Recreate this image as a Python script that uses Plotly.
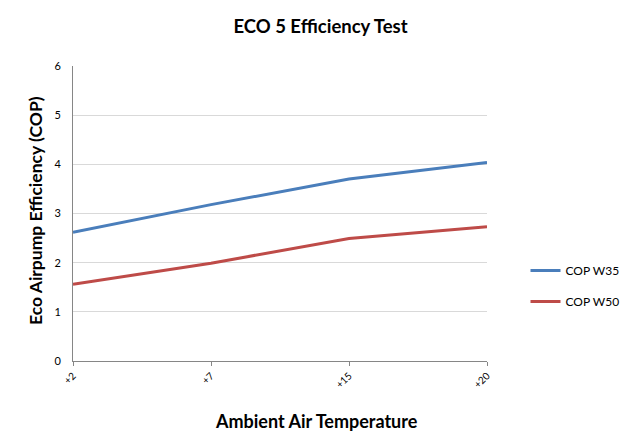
import plotly.graph_objects as go

categories = ["+2", "+7", "+15", "+20"]
cop_w35 = [2.62, 3.18, 3.70, 4.04]
cop_w50 = [1.56, 1.99, 2.49, 2.73]
y_ticks = [0, 1, 2, 3, 4, 5, 6]

FONT = "Lato"

fig = go.Figure()
fig.add_trace(go.Scatter(x=categories, y=cop_w35, mode="lines", name="COP W35", legendgroup="a",
                         line=dict(color="#4A7EBB", width=3)))
fig.add_trace(go.Scatter(x=categories, y=cop_w50, mode="lines", name="COP W50", legendgroup="b",
                         line=dict(color="#BE4B48", width=3)))

fig.update_layout(
    width=641, height=444,
    margin=dict(l=73, r=154, t=66, b=83, autoexpand=False),
    paper_bgcolor="white", plot_bgcolor="white",
    font=dict(family=FONT, color="black"),
    title=dict(text="<b>ECO 5 Efficiency Test</b>", x=0.5, xref="container", xanchor="center",
               y=0.94, yref="container", yanchor="middle",
               font=dict(size=18.5, family=FONT, color="black")),
    showlegend=True,
    legend=dict(x=1.093, xanchor="left", y=0.254, yanchor="middle",
                font=dict(size=12, family=FONT), tracegroupgap=12, itemwidth=30,
                bgcolor="rgba(0,0,0,0)"),
    xaxis=dict(type="category", range=[0, 3], showgrid=False, automargin=False,
               showline=True, linecolor="#868686", linewidth=1,
               ticks="outside", tickcolor="#868686", ticklen=4,
               tickangle=-45, tickfont=dict(size=10, family=FONT)),
    yaxis=dict(range=[0, 6], tickvals=y_ticks, showgrid=True, gridcolor="#D9D9D9", automargin=False,
               showline=True, linecolor="#868686", linewidth=1, zeroline=False,
               tickfont=dict(size=11, family=FONT), ticklabelstandoff=9),
    annotations=[
        dict(text="<b>Ambient Air Temperature</b>", xref="paper", yref="paper",
             x=0.587, y=-0.203, xanchor="center", yanchor="middle", showarrow=False,
             font=dict(size=18, family=FONT, color="black")),
        dict(text="<b>Eco Airpump Efficiency (COP)</b>", xref="paper", yref="paper",
             x=-0.0894, y=0.512, xanchor="center", yanchor="middle", showarrow=False,
             textangle=-90, font=dict(size=17.5, family=FONT, color="black")),
    ],
)

fig.write_html("out.html", config={"displayModeBar": False},
               post_script="document.body.style.margin='0';document.body.style.padding='0';")
